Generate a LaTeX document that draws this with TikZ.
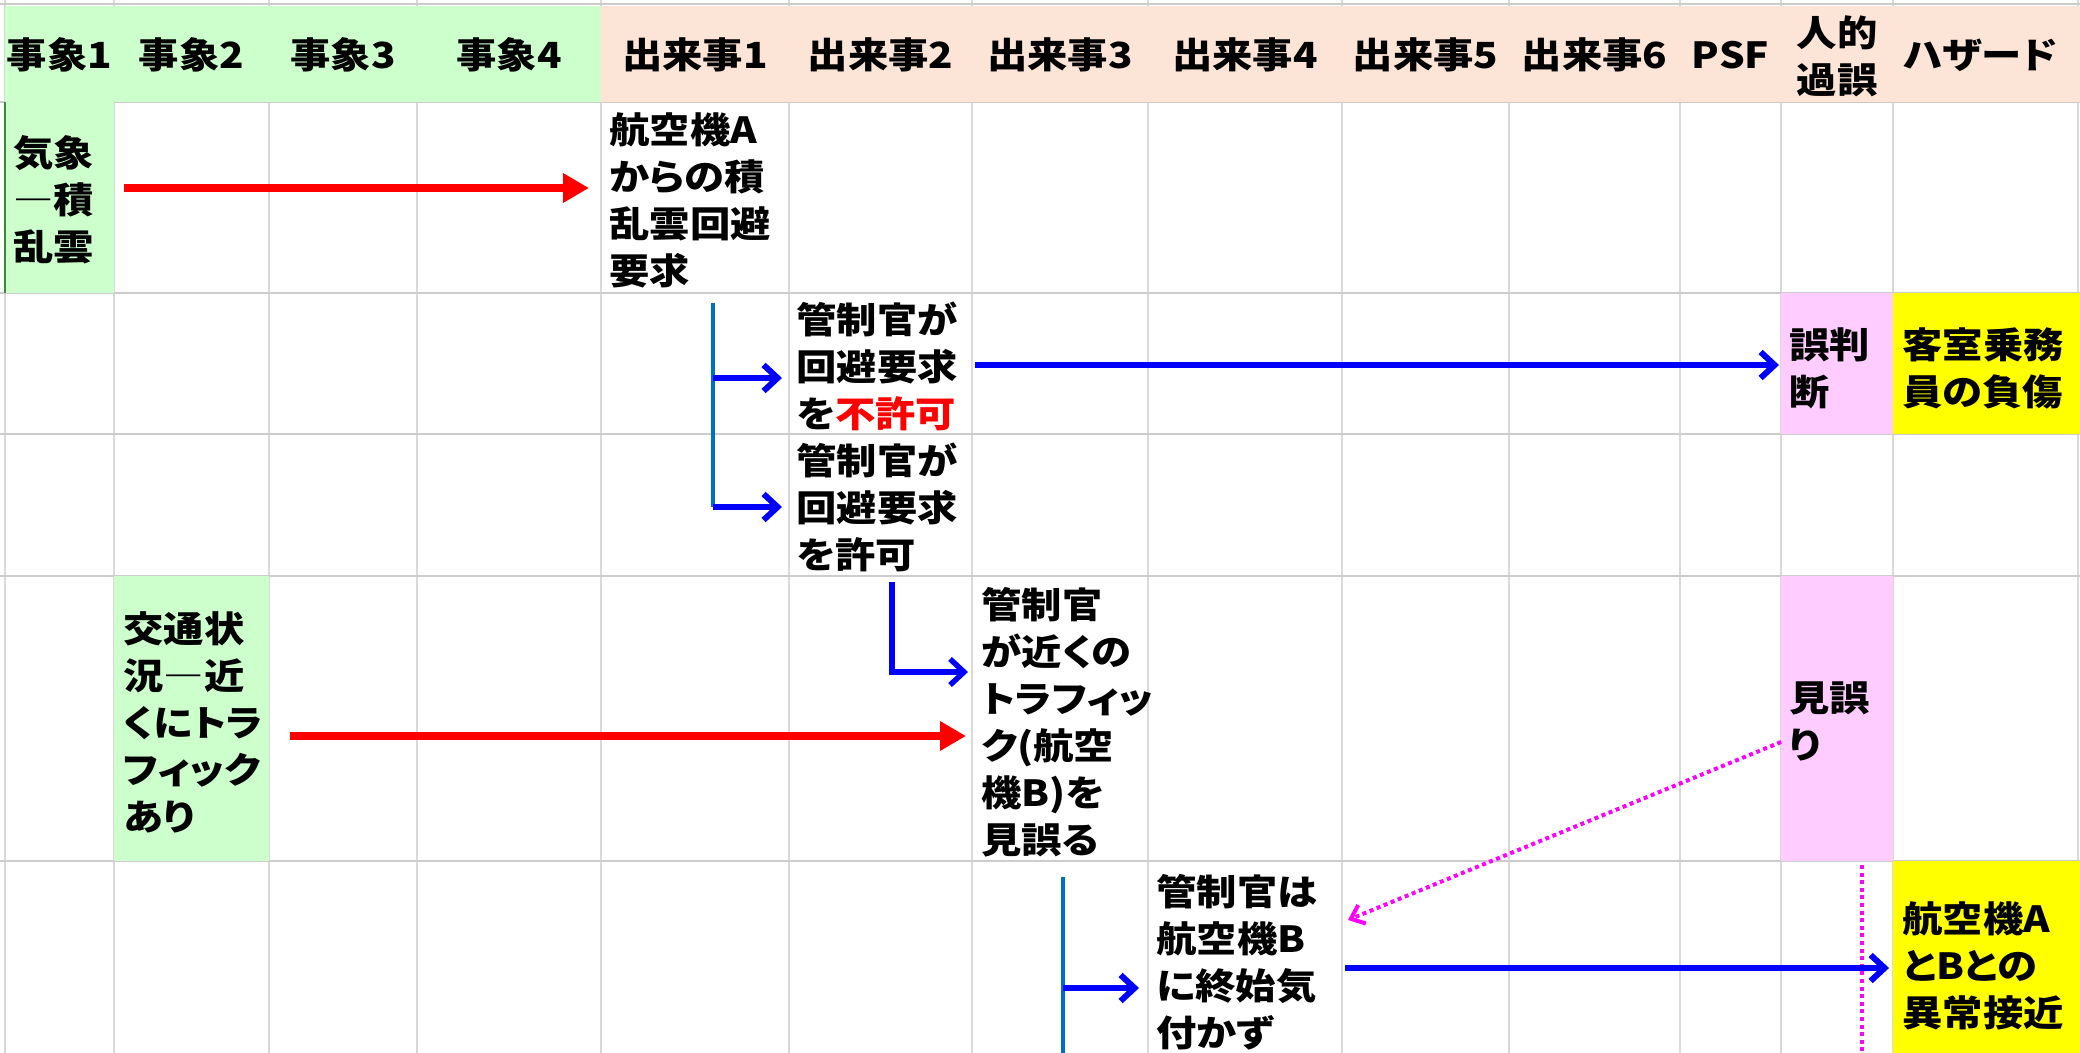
\documentclass[tikz,border=0pt]{standalone}
\usepackage{fontspec}
\setmainfont{Noto Sans CJK JP}[FakeStretch=1.12, RawFeature=+palt]
\usetikzlibrary{arrows.meta}
\definecolor{hgreen}{HTML}{CCFFCC}
\definecolor{hpeach}{HTML}{FCE4D6}
\definecolor{cpink}{HTML}{FFCCFF}
\definecolor{cyellow}{HTML}{FFFF00}
\definecolor{gridcv}{HTML}{D9D9D9}
\definecolor{gridch}{HTML}{CCCCCC}
\definecolor{arrred}{HTML}{FF0000}
\definecolor{arrblue}{HTML}{0000FF}
\definecolor{brkblue}{HTML}{0070C0}
\definecolor{magc}{HTML}{FF00FF}
\definecolor{dgreen}{HTML}{3A8A3A}
\newcommand{\diagfont}{\fontsize{18}{23.5}\selectfont\bfseries}
\begin{document}
\begin{tikzpicture}[x=0.5pt,y=-0.5pt,
  gridv/.style={draw=gridcv, line width=1pt},
  gridh/.style={draw=gridch, line width=1.2pt},
  txt/.style={anchor=west, align=left, inner sep=0pt, font=\diagfont},
  hdr/.style={anchor=center, align=center, inner sep=0pt, font=\diagfont},
  redarr/.style={draw=arrred, line width=4pt, -{Triangle[length=13pt,width=14pt]}},
  bluarr/.style={draw=arrblue, line width=3pt, -{Straight Barb[length=7pt,width=13pt]}},
  brk/.style={draw=brkblue, line width=1.6pt},
  magarr/.style={draw=magc, line width=2pt, dash pattern=on 2pt off 1.8pt, -{Straight Barb[length=6pt,width=10pt]}},
  magline/.style={draw=magc, line width=2pt, dash pattern=on 2pt off 1.8pt}]
\useasboundingbox (0,0) rectangle (2080,1053);
\fill[white] (0,0) rectangle (2080,1053);
% grid
\foreach \gx in {5,114,269,417,601,789,972,1148,1342,1509,1680,1781,1893,2078}
  \draw[gridv] (\gx,0) -- (\gx,1053);
\foreach \gy in {4,102,293,434,576,861}
  \draw[gridh] (0,\gy) -- (2080,\gy);
% fills
\fill[hgreen] (5,6) rectangle (601,102);
\fill[hpeach] (601,6) rectangle (2080,102);
\fill[hgreen] (5,102) rectangle (114,293);
\draw[dgreen, line width=1pt] (5,102) -- (5,293);
\fill[cpink] (1781,293) rectangle (1893,434);
\fill[cyellow] (1893,293) rectangle (2080,434);
\fill[hgreen] (114,576) rectangle (269,861);
\fill[cpink] (1781,576) rectangle (1893,861);
\fill[cyellow] (1893,861) rectangle (2080,1053);
% header
\node[hdr] (h1) at (59.5,55) {事象1};
\node[hdr] (h2) at (191.5,55) {事象2};
\node[hdr] (h3) at (343,55) {事象3};
\node[hdr] (h4) at (509,55) {事象4};
\node[hdr] (h5) at (695,55) {出来事1};
\node[hdr] (h6) at (880.5,55) {出来事2};
\node[hdr] (h7) at (1060,55) {出来事3};
\node[hdr] (h8) at (1245,55) {出来事4};
\node[hdr] (h9) at (1425.5,55) {出来事5};
\node[hdr] (h10) at (1594.5,55) {出来事6};
\node[hdr] (h11) at (1730.5,55) {PSF};
\node[hdr] (h12) at (1837,56) {人的\\過誤};
\node[hdr] (h13) at (1980,55) {ハザード};
% cell texts
\node[txt] (w1) at (13,200) {気象\\―積\\乱雲};
\node[txt] (e1) at (609,200) {航空機A\\からの積\\乱雲回避\\要求};
\node[txt] (e2a) at (796,366) {管制官が\\回避要求\\を\textcolor{arrred}{不許可}};
\node[txt] (he1) at (1789,368) {誤判\\断};
\node[txt] (hz1) at (1902,368) {客室乗務\\員の負傷};
\node[txt] (e2b) at (796,507) {管制官が\\回避要求\\を許可};
\node[txt] (w2) at (123,722) {交通状\\況―近\\くにトラ\\フィック\\あり};
\node[txt] (e3) at (981,722) {管制官\\が近くの\\トラフィッ\\ク(航空\\機B)を\\見誤る};
\node[txt] (he2) at (1789,721) {見誤\\り};
\node[txt] (e4) at (1156,962) {管制官は\\航空機B\\に終始気\\付かず};
\node[txt] (hz2) at (1902,966) {航空機A\\とBとの\\異常接近};
% connector end points
\coordinate (r1s) at (124,188);
\coordinate (r1e) at (589,188);
\coordinate (b1top) at (713,303);
\coordinate (b1a) at (713,378);
\coordinate (b1b) at (713,507);
\coordinate (b1ae) at (782,378);
\coordinate (b1be) at (782,507);
\coordinate (l1s) at (975,365);
\coordinate (l1e) at (1779,365);
\coordinate (elb1) at (892,582);
\coordinate (elb2) at (892,672);
\coordinate (elb3) at (968,672);
\coordinate (r2s) at (290,736);
\coordinate (r2e) at (966,736);
\coordinate (m1s) at (1781,742);
\coordinate (m1e) at (1348,920);
\coordinate (m2s) at (1862,865);
\coordinate (m2e) at (1862,1053);
\coordinate (b2top) at (1063,877);
\coordinate (b2bot) at (1063,1053);
\coordinate (b2a) at (1063,988);
\coordinate (b2ae) at (1139,988);
\coordinate (l2s) at (1345,968);
\coordinate (l2e) at (1889,968);
% connectors
\draw[redarr] (r1s) -- (r1e);
\draw[brk] (b1top) -- (b1b);
\draw[bluarr] (b1a) -- (b1ae);
\draw[bluarr] (b1b) -- (b1be);
\draw[bluarr] (l1s) -- (l1e);
\draw[bluarr, line width=2.7pt] (elb1) -- (elb2) -- (elb3);
\draw[redarr] (r2s) -- (r2e);
\draw[magarr] (m1s) -- (m1e);
\draw[magline] (m2s) -- (m2e);
\draw[brk] (b2top) -- (b2bot);
\draw[bluarr] (b2a) -- (b2ae);
\draw[bluarr] (l2s) -- (l2e);
\end{tikzpicture}
\end{document}
